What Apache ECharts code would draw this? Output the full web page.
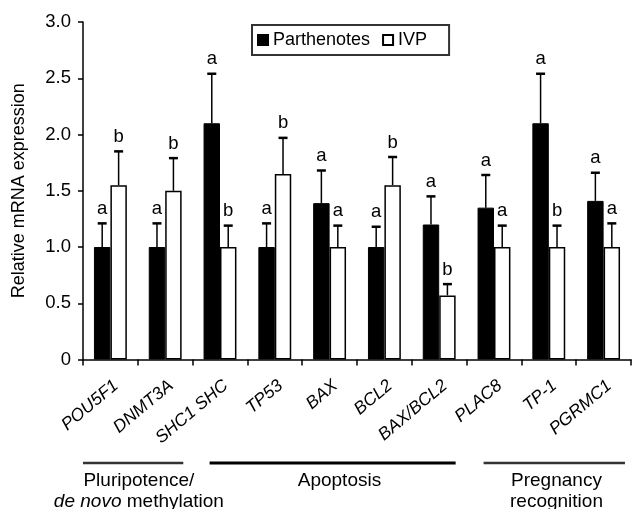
<!DOCTYPE html>
<html>
<head>
<meta charset="utf-8">
<script src="https://cdn.jsdelivr.net/npm/echarts@6/dist/echarts.min.js"></script>
<style>
html,body{margin:0;padding:0;background:#fff;}
#chart{width:632px;height:509px;}
</style>
</head>
<body>
<div id="chart"></div>
<script>
// ---- data ----
const categories = ['POU5F1','DNMT3A','SHC1 SHC','TP53','BAX','BCL2','BAX/BCL2','PLAC8','TP-1','PGRMC1'];
const parthenotes = [1.00, 1.00, 2.10, 1.00, 1.39, 1.00, 1.20, 1.35, 2.10, 1.41];
const parthenotesUpper = [1.21, 1.21, 2.54, 1.21, 1.68, 1.18, 1.45, 1.64, 2.54, 1.66];
const ivp = [1.55, 1.50, 1.00, 1.65, 1.00, 1.55, 0.57, 1.00, 1.00, 1.00];
const ivpUpper = [1.85, 1.79, 1.19, 1.97, 1.19, 1.80, 0.67, 1.19, 1.19, 1.21];
const parthenotesLetters = ['a','a','a','a','a','a','a','a','a','a'];
const ivpLetters = ['b','b','b','b','a','b','b','a','b','a'];
const yTicks = [0, 0.5, 1.0, 1.5, 2.0, 2.5, 3.0];
const groupLabels = [['Pluripotence/', '{i|de novo} methylation'], ['Apoptosis'], ['Pregnancy', 'recognition']];
const groupLineFrom = [-0.5, 1.81, 6.81];
const groupLineTo = [1.33, 6.30, 9.39];
const groupLabelAt = [0.52, 4.18, 8.14];

const FONT = 'Liberation Sans, Arial, Helvetica, sans-serif';
const chart = echarts.init(document.getElementById('chart'), null, {renderer: 'canvas'});

function errorSeries(name, vals, uppers, letters, side) {
  return {
    type: 'custom',
    name: name,
    z: 5,
    silent: true,
    data: vals.map((v, i) => [i, uppers[i], v, letters[i]]),
    renderItem: function (params, api) {
      const i = api.value(0);
      const top = api.coord([i, api.value(1)]);
      const base = api.coord([i, api.value(2)]);
      const bw = api.size([1, 0])[0];
      const x = top[0] + side * 0.15 * bw;
      const letter = letters[params.dataIndex];
      return {
        type: 'group',
        children: [
          {type: 'line', shape: {x1: x, y1: base[1], x2: x, y2: top[1]}, style: {stroke: '#000', lineWidth: 1.5}},
          {type: 'line', shape: {x1: x - 4.5, y1: top[1], x2: x + 4.5, y2: top[1]}, style: {stroke: '#000', lineWidth: 2.5}},
          {type: 'text', x: x, y: top[1] - 5, style: {text: letter, textAlign: 'center', textVerticalAlign: 'bottom', font: '18.5px ' + FONT, fill: '#000'}}
        ]
      };
    }
  };
}

const option = {
  animation: false,
  backgroundColor: '#fff',
  textStyle: {fontFamily: FONT},
  grid: {left: 83, right: 1, top: 22, bottom: 149.5, containLabel: false},
  legend: {
    data: ['Parthenotes', 'IVP'],
    left: 252, top: 25,
    orient: 'horizontal',
    itemWidth: 10, itemHeight: 10, itemGap: 12,
    padding: [6, 22, 6, 5],
    borderColor: '#333', borderWidth: 2,
    textStyle: {fontSize: 18, color: '#000', fontFamily: FONT},
    icon: 'rect'
  },
  xAxis: {
    type: 'category',
    data: categories,
    axisLine: {show: true, lineStyle: {color: '#000', width: 1.5}},
    axisTick: {show: true, length: 6, lineStyle: {color: '#000', width: 1.5}},
    axisLabel: {
      interval: 0, rotate: 40, margin: 17, verticalAlign: 'top',
      fontStyle: 'italic', fontSize: 17.5, color: '#000', fontFamily: FONT
    },
    splitLine: {show: false}
  },
  yAxis: {
    type: 'value',
    min: yTicks[0], max: yTicks[yTicks.length - 1], interval: 0.5,
    name: 'Relative mRNA expression',
    nameLocation: 'middle', nameGap: 55, nameRotate: 90,
    nameTextStyle: {fontSize: 18, color: '#000', fontFamily: FONT},
    axisLine: {show: true, lineStyle: {color: '#000', width: 1.5}},
    axisTick: {show: true, length: 5, lineStyle: {color: '#000', width: 1.5}},
    axisLabel: {
      margin: 12, fontSize: 18.5, color: '#000', fontFamily: FONT,
      formatter: v => (v === 0 ? '0' : v.toFixed(1))
    },
    splitLine: {show: false}
  },
  series: [
    {
      name: 'Parthenotes', type: 'bar', data: parthenotes,
      barWidth: '30%', barGap: '0%',
      itemStyle: {color: '#000', borderColor: '#000', borderWidth: 1}
    },
    {
      name: 'IVP', type: 'bar', data: ivp,
      barWidth: '30%', barGap: '0%',
      itemStyle: {color: '#fff', borderColor: '#000', borderWidth: 1.5}
    },
    errorSeries('errP', parthenotes, parthenotesUpper, parthenotesLetters, -1),
    errorSeries('errI', ivp, ivpUpper, ivpLetters, 1)
  ]
};
chart.setOption(option);

// group annotations below the axis, positioned from the category axis scale
const x0 = chart.convertToPixel({xAxisIndex: 0}, 0);
const x1 = chart.convertToPixel({xAxisIndex: 0}, 1);
const band = x1 - x0;
const toPx = c => x0 + c * band;
const graphics = [];
groupLabels.forEach((lines, g) => {
  graphics.push({
    type: 'line',
    shape: {x1: toPx(groupLineFrom[g]), y1: 463, x2: toPx(groupLineTo[g]), y2: 463},
    style: {stroke: g === 1 ? '#000' : '#333', lineWidth: g === 1 ? 3 : 2.5}
  });
  lines.forEach((t, k) => {
    graphics.push({
      type: 'text',
      x: toPx(groupLabelAt[g]), y: 481 + k * 21,
      style: {
        text: t, textAlign: 'center', textVerticalAlign: 'middle',
        font: '19px ' + FONT, fill: '#000',
        rich: {i: {fontStyle: 'italic', fontSize: 19, fontFamily: FONT, fill: '#000'}}
      }
    });
  });
});
chart.setOption({graphic: graphics});
</script>
</body>
</html>
